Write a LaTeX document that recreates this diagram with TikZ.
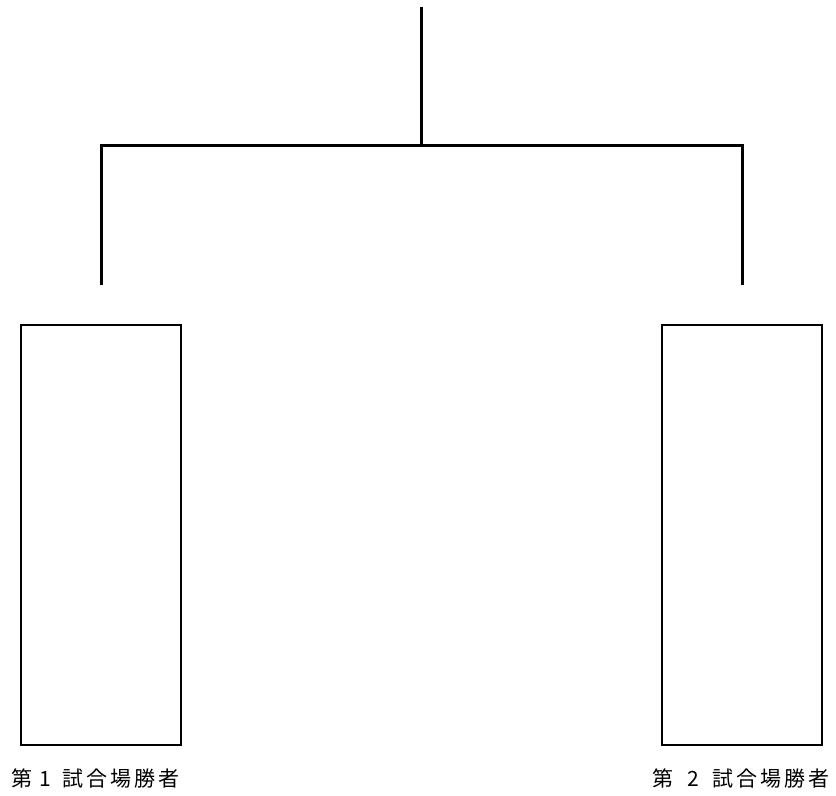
\documentclass[tikz,border=0pt]{standalone}
\usepackage{fontspec}
\newfontfamily\jpfont{Noto Sans CJK JP}
\newlength\px
\setlength\px{0.75pt}
\tikzset{
  winnerbox/.style={draw=black, line width=2\px, minimum width=160\px, minimum height=420\px, inner sep=0pt, outer sep=0pt},
  bracketline/.style={draw=black, line width=3\px, line join=miter},
  winnerlabel/.style={anchor=west, inner sep=0pt, font=\jpfont\fontsize{21\px}{24\px}\selectfont}
}
\newcommand{\gapx}{\hspace{3\px}}
\begin{document}
\begin{tikzpicture}[x=1\px, y=-1\px]
\useasboundingbox (0,0) rectangle (836,796);
\node[winnerbox] (b1) at (101,535) {};
\node[winnerbox] (b2) at (742,535) {};
\coordinate (top) at (421,7);
\coordinate (mid) at (421,145);
\coordinate (lt) at (101,285);
\coordinate (rt) at (742,285);
\draw[bracketline] (top) -- (mid);
\draw[bracketline] (lt) |- (mid) -| (rt);
\node[winnerlabel] (l1) at (11,779) {\makebox[22\px][l]{第}\makebox[24\px][c]{1}\hspace{5\px}試\gapx 合\gapx 場\gapx 勝\gapx 者};
\node[winnerlabel] (l2) at (652,779) {\makebox[22\px][l]{第}\makebox[38\px][c]{2}試\gapx 合\gapx 場\gapx 勝\gapx 者};
\end{tikzpicture}
\end{document}
